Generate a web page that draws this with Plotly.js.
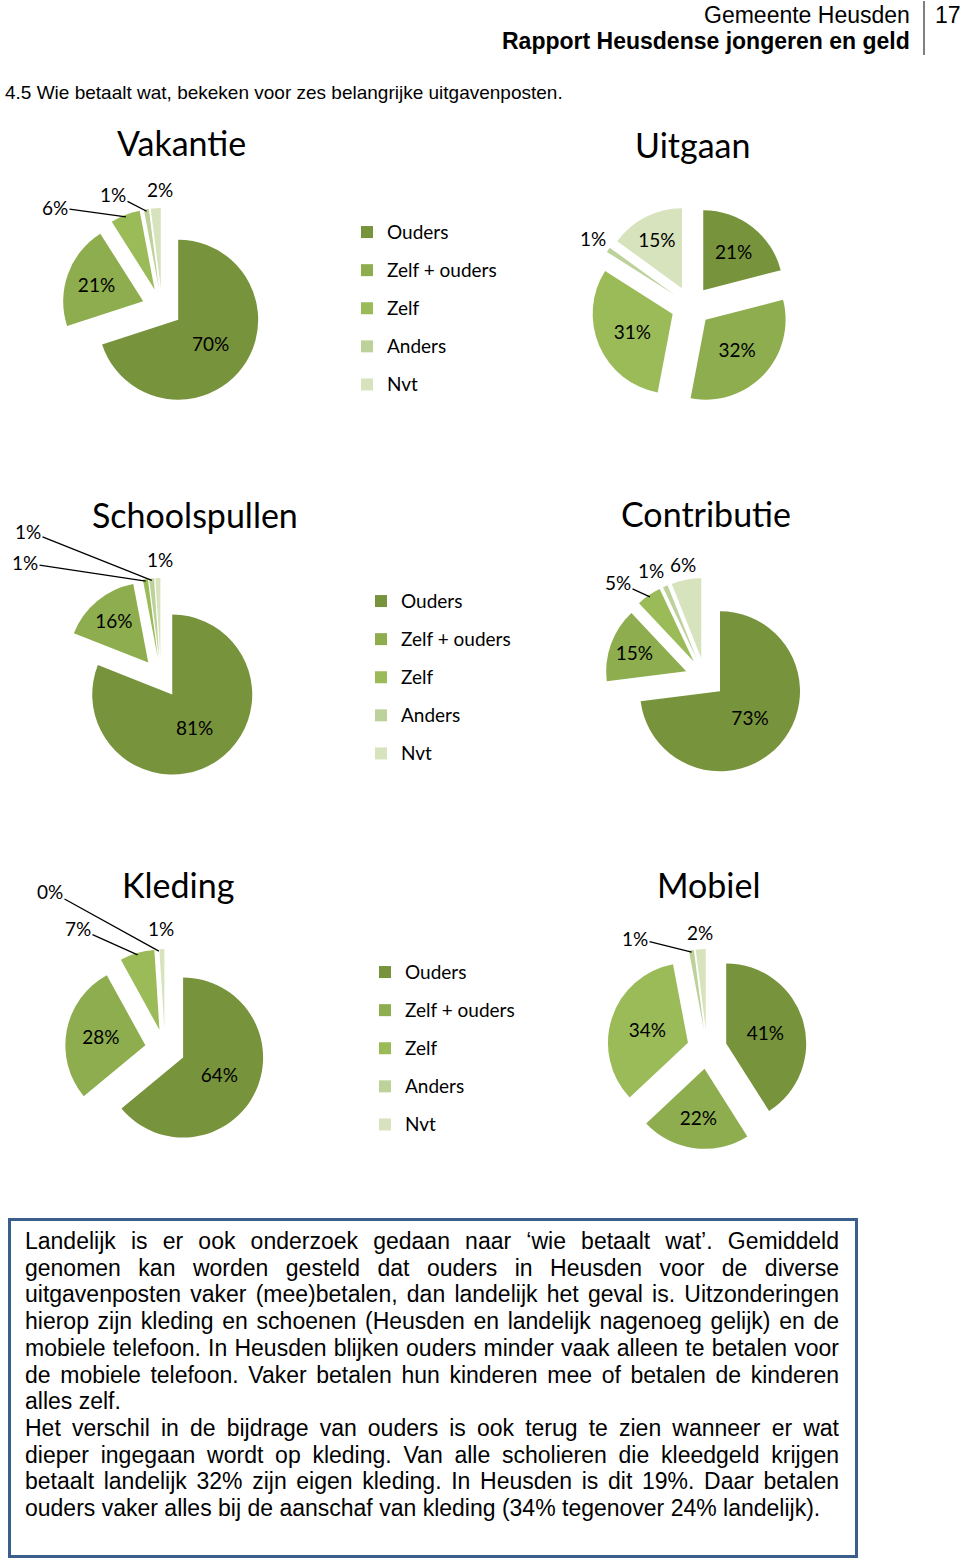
<!DOCTYPE html>
<html><head><meta charset="utf-8">
<script src="https://cdn.plot.ly/plotly-3.0.1.min.js"></script>
<style>
html,body{margin:0;padding:0;background:#fff;}
#chart{position:absolute;left:0;top:0;width:960px;height:1563px;}
#box{position:absolute;left:8px;top:1218px;width:850px;height:340px;box-sizing:border-box;border:3px solid #3B5F8D;padding:7px 16px 0 14px;font-family:"Liberation Sans",Arial,sans-serif;font-size:23px;line-height:26.7px;color:#000;}
#box div{white-space:nowrap;}
#box .j{text-align:justify;text-align-last:justify;}
</style></head><body>
<div id="chart"></div>
<div id="box"></div>
<script>
// ---- data ----
const categories = ['Ouders', 'Zelf + ouders', 'Zelf', 'Anders', 'Nvt'];
const chartTitles = ['Vakantie', 'Uitgaan', 'Schoolspullen', 'Contributie', 'Kleding', 'Mobiel'];
const vakantie = [70, 21, 6, 1, 2];
const uitgaan = [21, 32, 31, 1, 15];
const schoolspullen = [81, 16, 1, 1, 1];
const contributie = [73, 15, 5, 1, 6];
const kleding = [64, 28, 7, 0, 1];
const mobiel = [41, 22, 34, 1, 2];
const headerTop = 'Gemeente Heusden';
const headerBottom = 'Rapport Heusdense jongeren en geld';
const pageNumber = '17';
const sectionTitle = '4.5 Wie betaalt wat, bekeken voor zes belangrijke uitgavenposten.';
const textLines = [
  'Landelijk is er ook onderzoek gedaan naar \u2018wie betaalt wat\u2019. Gemiddeld',
  'genomen kan worden gesteld dat ouders in Heusden voor de diverse',
  'uitgavenposten vaker (mee)betalen, dan landelijk het geval is. Uitzonderingen',
  'hierop zijn kleding en schoenen (Heusden en landelijk nagenoeg gelijk) en de',
  'mobiele telefoon. In Heusden blijken ouders minder vaak alleen te betalen voor',
  'de mobiele telefoon. Vaker betalen hun kinderen mee of betalen de kinderen',
  'alles zelf.',
  'Het verschil in de bijdrage van ouders is ook terug te zien wanneer er wat',
  'dieper ingegaan wordt op kleding. Van alle scholieren die kleedgeld krijgen',
  'betaalt landelijk 32% zijn eigen kleding. In Heusden is dit 19%. Daar betalen',
  'ouders vaker alles bij de aanschaf van kleding (34% tegenover 24% landelijk).'
];
const paragraphEnds = [6, 10];

// ---- styling / layout ----
const W = 960, H = 1563;
const sliceColors = ['#77933C', '#8DAD4E', '#9BBB59', '#BDD19A', '#D6E3BC'];
const R = 80, PULL = 0.25;
const FONT = 'Lato, "Open Sans", sans-serif';
const ARIAL = '"Liberation Sans", Arial, sans-serif';
const seriesList = [vakantie, uitgaan, schoolspullen, contributie, kleding, mobiel];
const pieCfg = [
  {c: [162, 308], title: [181, 143], legend: 'legend',
   out: {2: [55, 207, true], 3: [113, 194, true], 4: [160, 189, false]}},
  {c: [691, 306], title: [692, 144], legend: null,
   out: {3: [593, 238, false]}},
  {c: [161, 678], title: [195, 514], legend: 'legend2',
   out: {2: [25, 563, true], 3: [28, 531, true], 4: [160, 560, false]}},
  {c: [705, 678], title: [706, 513], legend: null,
   out: {2: [618, 582, true], 3: [651, 571, false], 4: [683, 564, false]}},
  {c: [165, 1049], title: [178, 884], legend: null,
   out: {2: [78, 928, true], 3: [50, 891, true], 4: [161, 928, false]}},
  {c: [707, 1049], title: [709, 885], legend: 'legend3',
   out: {3: [635, 938, true], 4: [700, 932, false]}}
];
const px = x => x / W, py = y => 1 - y / H;

const traces = [];
const annotations = [];
seriesList.forEach((vals, i) => {
  const cfg = pieCfg[i];
  const half = R * (1 + PULL);
  const pos = vals.map((v, k) => cfg.out[k] ? 'none' : 'inside');
  traces.push({
    type: 'pie',
    labels: categories.map(c => '<span style="font-size:19px;baseline-shift:4px;--p' + i + ':0">' + c + '</span>'),
    values: vals,
    text: vals.map(v => v + '%'),
    textinfo: 'text',
    textposition: pos,
    insidetextorientation: 'horizontal',
    textfont: {family: FONT, size: 19, color: '#000'},
    sort: false,
    direction: 'clockwise',
    rotation: 0,
    pull: vals.map(() => PULL),
    marker: {colors: sliceColors, line: {width: 0}},
    domain: {x: [px(cfg.c[0] - half), px(cfg.c[0] + half)], y: [py(cfg.c[1] + half), py(cfg.c[1] - half)]},
    hoverinfo: 'percent',
    showlegend: !!cfg.legend,
    legend: cfg.legend || 'legend'
  });
  annotations.push({
    text: chartTitles[i], x: px(cfg.title[0]), y: py(cfg.title[1]), xref: 'paper', yref: 'paper',
    xanchor: 'center', yanchor: 'middle', showarrow: false,
    font: {family: FONT, size: 34, color: '#000'}
  });
  // outside labels with leader lines pointing at slice edge
  let cum = 0;
  vals.forEach((v, k) => {
    const mid = (cum + v / 2) / 100 * 2 * Math.PI;
    cum += v;
    const o = cfg.out[k];
    if (!o) return;
    const rr = R * (1 + PULL) - 2;
    const tx = cfg.c[0] + rr * Math.sin(mid), ty = cfg.c[1] - rr * Math.cos(mid);
    if (o[2]) {
      annotations.push({
        text: v + '%', x: px(tx), y: py(ty), xref: 'paper', yref: 'paper',
        ax: o[0] - tx, ay: o[1] - ty, showarrow: true, arrowhead: 0, arrowwidth: 1.3,
        arrowcolor: '#000', standoff: 0, font: {family: FONT, size: 19, color: '#000'}
      });
    } else {
      annotations.push({
        text: v + '%', x: px(o[0]), y: py(o[1]), xref: 'paper', yref: 'paper',
        xanchor: 'center', yanchor: 'middle', showarrow: false,
        font: {family: FONT, size: 19, color: '#000'}
      });
    }
  });
});

// header texts
annotations.push({text: headerTop, x: px(912), y: py(15), xref: 'paper', yref: 'paper', xanchor: 'right', yanchor: 'middle', showarrow: false, font: {family: ARIAL, size: 23, color: '#000'}});
annotations.push({text: '<b>' + headerBottom + '</b>', x: px(912), y: py(41), xref: 'paper', yref: 'paper', xanchor: 'right', yanchor: 'middle', showarrow: false, font: {family: ARIAL, size: 23, color: '#000'}});
annotations.push({text: pageNumber, x: px(948), y: py(15), xref: 'paper', yref: 'paper', xanchor: 'center', yanchor: 'middle', showarrow: false, font: {family: ARIAL, size: 23, color: '#000'}});
annotations.push({text: sectionTitle, x: px(3), y: py(93), xref: 'paper', yref: 'paper', xanchor: 'left', yanchor: 'middle', showarrow: false, font: {family: ARIAL, size: 19, color: '#000'}});

const legendBase = {xanchor: 'left', yanchor: 'top', bgcolor: 'rgba(0,0,0,0)', borderwidth: 0,
  font: {family: FONT, size: 27, color: '#000'}, itemclick: false, itemdoubleclick: false, traceorder: 'normal'};
const layout = {
  width: W, height: H, margin: {l: 0, r: 0, t: 0, b: 0},
  paper_bgcolor: 'rgba(0,0,0,0)', plot_bgcolor: 'rgba(0,0,0,0)',
  showlegend: true,
  legend: Object.assign({}, legendBase, {x: px(347), y: py(208)}),
  legend2: Object.assign({}, legendBase, {x: px(361), y: py(577)}),
  legend3: Object.assign({}, legendBase, {x: px(365), y: py(948)}),
  annotations: annotations,
  shapes: [{type: 'line', xref: 'paper', yref: 'paper', x0: px(924), x1: px(924), y0: py(1), y1: py(55), line: {color: '#000', width: 1}}]
};
Plotly.newPlot('chart', traces, layout, {displayModeBar: false});

// text box
const box = document.getElementById('box');
textLines.forEach((t, i) => {
  const d = document.createElement('div');
  d.textContent = t;
  if (paragraphEnds.indexOf(i) < 0) d.className = 'j';
  box.appendChild(d);
});
</script>
</body></html>
